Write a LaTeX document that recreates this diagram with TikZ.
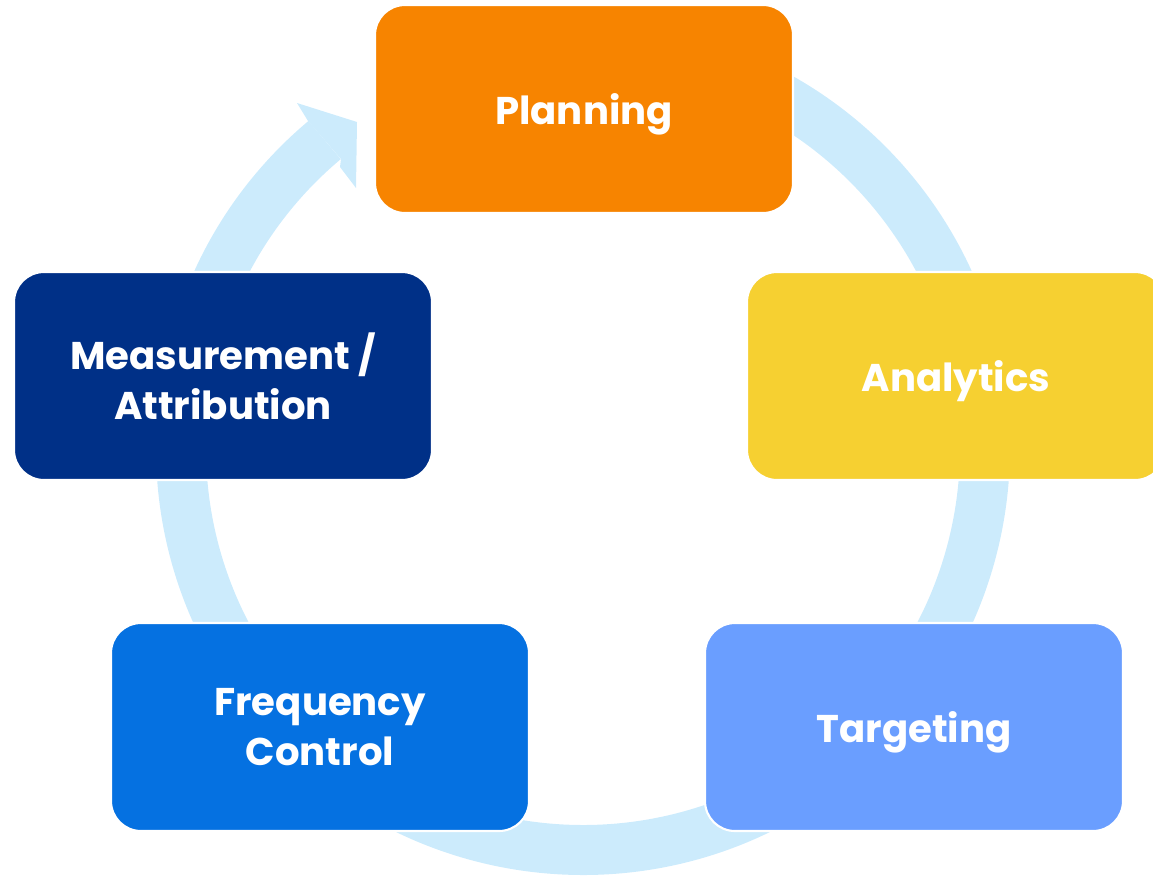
\documentclass[tikz,border=0pt]{standalone}
\usepackage{fontspec}
\setmainfont{Poppins}
\usetikzlibrary{positioning}

\definecolor{ringblue}{HTML}{CCEBFC}
\definecolor{planorange}{HTML}{F78400}
\definecolor{analyticsyellow}{HTML}{F6D031}
\definecolor{measurenavy}{HTML}{003087}
\definecolor{freqblue}{HTML}{0571E1}
\definecolor{targetblue}{HTML}{6A9EFF}

\tikzset{
  stage/.style={rectangle, rounded corners=30*0.02cm, draw=white, line width=1.2pt,
    minimum width=418*0.02cm, minimum height=208*0.02cm, align=center,
    text depth=0pt, text=white, font=\fontsize{22}{28.5}\selectfont\bfseries},
  ring/.style={ringblue, line width=50*0.02cm}
}

\begin{document}
\begin{tikzpicture}[x=0.02cm, y=-0.02cm]
\clip (0,0) rectangle (1153,876);
\useasboundingbox (0,0) rectangle (1153,876);

% cycle ring with arrow head
\coordinate (c) at (583,448);
\draw[ring] (c) ++(-130:402) arc[start angle=-130, end angle=-460, radius=402];
\fill[ringblue] (308,121) -- (297,103) -- (357,122) -- (356,188) -- (340,167) -- (341,159) -- cycle;

% stages
\node[stage, fill=planorange] (plan) at (584,109) {Planning};
\node[stage, fill=analyticsyellow] (analytics) at (956,376) {Analytics};
\node[stage, fill=targetblue] (target) at (914,727) {Targeting};
\node[stage, fill=freqblue] (freq) at (320,727) {Frequency\\Control};
\node[stage, fill=measurenavy] (measure) at (223,376) {Measurement /\\Attribution};
\end{tikzpicture}
\end{document}
